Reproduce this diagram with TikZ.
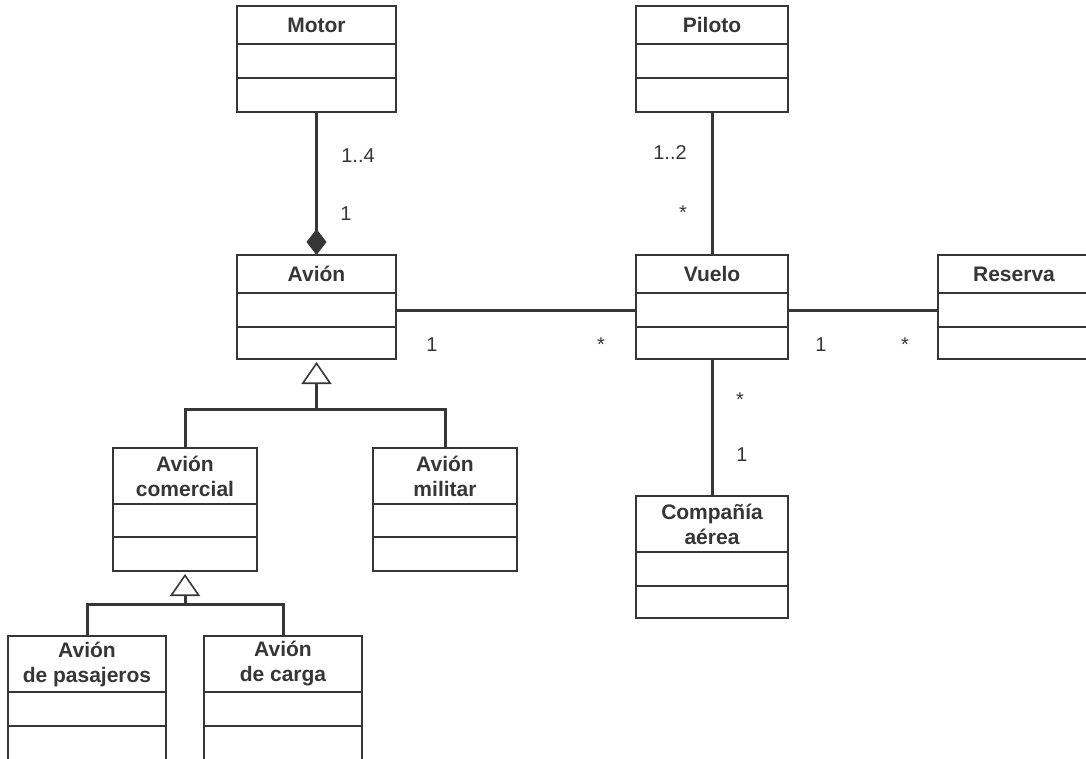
\documentclass[tikz,border=0pt]{standalone}
\usepackage{fontspec}
\setmainfont{Liberation Sans}
\usetikzlibrary{arrows.meta,positioning}
\definecolor{umlgray}{HTML}{363636}

\tikzset{
  classname/.style={draw=umlgray, line width=1.6pt, inner sep=0pt, outer sep=0pt,
    minimum height=38pt, align=center, text=umlgray,
    font=\fontsize{21}{25}\selectfont\bfseries},
  twoline/.style={minimum height=56pt},
  compartment/.style={draw=umlgray, line width=1.6pt, inner sep=0pt, outer sep=0pt,
    minimum height=34pt},
  assoc/.style={draw=umlgray, line width=3pt},
  mult/.style={inner sep=0pt, text=umlgray, font=\fontsize{20}{24}\selectfont},
  gen/.style={-{Triangle[open, length=22pt, width=30pt, line width=1.6pt]}, shorten >=3pt},
  comp/.style={{Diamond[length=26pt, width=20pt, line width=1pt, fill=umlgray]}-}
}

\begin{document}
\begin{tikzpicture}[x=1pt, y=-1pt]

  \useasboundingbox (0,0) rectangle (1086,758);
  \clip (0,0) rectangle (1086,758);

  % Motor
  \node[classname, minimum width=159pt, anchor=north west] (motor) at (237,6) {Motor};
  \node[compartment, minimum width=159pt, below=0pt of motor] (motor-a) {};
  \node[compartment, minimum width=159pt, below=0pt of motor-a] (motor-o) {};

  % Piloto
  \node[classname, minimum width=152pt, anchor=north west] (piloto) at (636,6) {Piloto};
  \node[compartment, minimum width=152pt, below=0pt of piloto] (piloto-a) {};
  \node[compartment, minimum width=152pt, below=0pt of piloto-a] (piloto-o) {};

  % Avion
  \node[classname, minimum width=159pt, anchor=north west] (avion) at (237,255) {Avión};
  \node[compartment, minimum width=159pt, below=0pt of avion] (avion-a) {};
  \node[compartment, minimum width=159pt, below=0pt of avion-a, minimum height=32pt] (avion-o) {};

  % Vuelo
  \node[classname, minimum width=152pt, anchor=north west] (vuelo) at (636,255) {Vuelo};
  \node[compartment, minimum width=152pt, below=0pt of vuelo] (vuelo-a) {};
  \node[compartment, minimum width=152pt, below=0pt of vuelo-a, minimum height=32pt] (vuelo-o) {};

  % Reserva
  \node[classname, minimum width=152pt, anchor=north west] (reserva) at (938,255) {Reserva};
  \node[compartment, minimum width=152pt, below=0pt of reserva] (reserva-a) {};
  \node[compartment, minimum width=152pt, below=0pt of reserva-a, minimum height=32pt] (reserva-o) {};

  % Avion comercial
  \node[classname, twoline, minimum width=144pt, anchor=north west] (comercial) at (113,448) {Avión\\comercial};
  \node[compartment, minimum width=144pt, below=0pt of comercial, minimum height=33pt] (comercial-a) {};
  \node[compartment, minimum width=144pt, below=0pt of comercial-a] (comercial-o) {};

  % Avion militar
  \node[classname, twoline, minimum width=144pt, anchor=north west] (militar) at (373,448) {Avión\\militar};
  \node[compartment, minimum width=144pt, below=0pt of militar, minimum height=33pt] (militar-a) {};
  \node[compartment, minimum width=144pt, below=0pt of militar-a] (militar-o) {};

  % Compania aerea
  \node[classname, twoline, minimum width=152pt, anchor=north west] (compania) at (636,496) {Compañía\\aérea};
  \node[compartment, minimum width=152pt, below=0pt of compania] (compania-a) {};
  \node[compartment, minimum width=152pt, below=0pt of compania-a, minimum height=32pt] (compania-o) {};

  % Avion de pasajeros
  \node[classname, twoline, minimum width=158pt, anchor=north west] (pasajeros) at (8,636) {Avión\\de pasajeros};
  \node[compartment, minimum width=158pt, below=0pt of pasajeros] (pasajeros-a) {};
  \node[compartment, minimum width=158pt, below=0pt of pasajeros-a, minimum height=40pt] (pasajeros-o) {};

  % Avion de carga
  \node[classname, twoline, minimum width=158pt, anchor=north west] (carga) at (204,636) {Avión\\de carga};
  \node[compartment, minimum width=158pt, below=0pt of carga] (carga-a) {};
  \node[compartment, minimum width=158pt, below=0pt of carga-a, minimum height=40pt] (carga-o) {};

  % Composition Motor -> Avion
  \draw[assoc, comp] (avion.north) -- (motor-o.south);
  \node[mult, anchor=base] (m-motor) at (358,162) {1..4};
  \node[mult, anchor=base] (m-avion-top) at (346,220) {1};

  % Associations
  \draw[assoc] (piloto-o.south) -- (vuelo.north);
  \node[mult, anchor=base] (m-piloto) at (670,159) {1..2};
  \node[mult, anchor=base] (m-vuelo-top) at (683,219) {*};

  \draw[assoc] (avion-a.east) -- (vuelo-a.west);
  \node[mult, anchor=base] (m-avion) at (432,351) {1};
  \node[mult, anchor=base] (m-vuelo-left) at (601,351) {*};

  \draw[assoc] (vuelo-a.east) -- (reserva-a.west);
  \node[mult, anchor=base] (m-vuelo-right) at (821,351) {1};
  \node[mult, anchor=base] (m-reserva) at (905,351) {*};

  \draw[assoc] (vuelo-o.south) -- (compania.north);
  \node[mult, anchor=base] (m-vuelo-bottom) at (740,406) {*};
  \node[mult, anchor=base] (m-compania) at (742,461) {1};

  % Generalization Avion
  \coordinate (avion-split) at ([yshift=-50pt]avion-o.south);
  \draw[assoc] (comercial.north) |- (avion-split) -| (militar.north);
  \draw[assoc, gen] (avion-split) -- (avion-o.south);

  % Generalization Avion comercial
  \coordinate (comercial-split) at ([yshift=-33pt]comercial-o.south);
  \draw[assoc] (pasajeros.north) |- (comercial-split) -| (carga.north);
  \draw[assoc, gen] (comercial-split) -- (comercial-o.south);

\end{tikzpicture}
\end{document}
